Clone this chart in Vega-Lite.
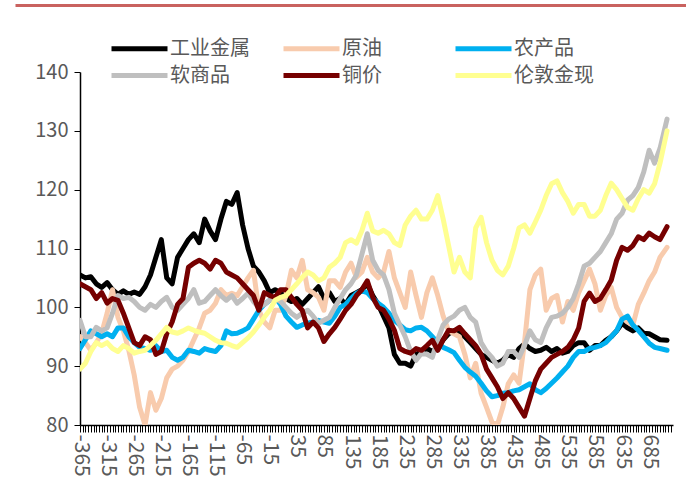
{
 "$schema": "https://vega.github.io/schema/vega-lite/v6.json",
 "width": 593,
 "height": 353,
 "autosize": "none",
 "padding": {"left": 80, "top": 72, "right": 13, "bottom": 65},
 "background": "white",
 "config": {"view": {"stroke": null}, "font": "Noto Sans CJK SC"},
 "data": {"values": [
  {"d":-365,"工业金属":105.5,"原油":95,"农产品":93,"软商品":97.8,"铜价":104,"伦敦金现":89.5},
  {"d":-355,"工业金属":105,"原油":94,"农产品":94.5,"软商品":95,"铜价":103.5,"伦敦金现":90.5},
  {"d":-345,"工业金属":105.2,"原油":92.7,"农产品":96,"软商品":95,"铜价":103,"伦敦金现":92.5},
  {"d":-335,"工业金属":104,"原油":94,"农产品":95.5,"软商品":96.6,"铜价":101.5,"伦敦金现":94},
  {"d":-325,"工业金属":103.4,"原油":95.6,"农产品":95,"软商品":96,"铜价":102.5,"伦敦金现":93.5},
  {"d":-315,"工业金属":104.2,"原油":99,"农产品":95.5,"软商品":96.5,"铜价":100.7,"伦敦金现":94},
  {"d":-305,"工业金属":103,"原油":103,"农产品":95,"软商品":99,"铜价":101.5,"伦敦金现":93},
  {"d":-295,"工业金属":102.2,"原油":98.3,"农产品":96.5,"软商品":102,"铜价":101.2,"伦敦金现":92.5},
  {"d":-285,"工业金属":102.8,"原油":96,"农产品":96.5,"软商品":101.5,"铜价":99,"伦敦金现":93.5},
  {"d":-275,"工业金属":102.2,"原油":92.7,"农产品":95,"软商品":101.7,"铜价":96.5,"伦敦金现":93},
  {"d":-265,"工业金属":102.6,"原油":88.5,"农产品":94,"软商品":101,"铜价":94,"伦敦金现":92.2},
  {"d":-255,"工业金属":102.2,"原油":83,"农产品":93.2,"软商品":100,"铜价":93.5,"伦敦金现":92.5},
  {"d":-245,"工业金属":103.5,"原油":80,"农产品":93,"软商品":99.5,"铜价":95,"伦敦金现":92.7},
  {"d":-235,"工业金属":105.5,"原油":85.5,"农产品":92.7,"软商品":100.5,"铜价":94.5,"伦敦金现":93.5},
  {"d":-225,"工业金属":108.5,"原油":82.5,"农产品":93.5,"软商品":100,"铜价":92,"伦敦金现":94.4},
  {"d":-215,"工业金属":111.5,"原油":84.5,"农产品":92.5,"软商品":101,"铜价":92.5,"伦敦金现":95.5},
  {"d":-205,"工业金属":105,"原油":88,"农产品":92.7,"软商品":101.7,"铜价":95.5,"伦敦金现":96.6},
  {"d":-195,"工业金属":104,"原油":89.5,"农产品":91.5,"软商品":100,"铜价":97.5,"伦敦金现":95.8},
  {"d":-185,"工业金属":108.5,"原油":90,"农产品":91,"软商品":99.5,"铜价":100.5,"伦敦金现":95.6},
  {"d":-175,"工业金属":110,"原油":91,"农产品":91.5,"软商品":100.5,"铜价":101.5,"伦敦金现":96},
  {"d":-165,"工业金属":111.5,"原油":92.5,"农产品":92.7,"软商品":101.5,"铜价":106.8,"伦敦金现":96.5},
  {"d":-155,"工业金属":112.5,"原油":94.5,"农产品":92.5,"软商品":103,"铜价":107.5,"伦敦金现":96.1},
  {"d":-145,"工业金属":111,"原油":96.5,"农产品":92.2,"软商品":100.7,"铜价":108,"伦敦金现":95.8},
  {"d":-135,"工业金属":115,"原油":99,"农产品":93,"软商品":101,"铜价":107.5,"伦敦金现":95.6},
  {"d":-125,"工业金属":113,"原油":99.5,"农产品":92.7,"软商品":102,"铜价":106.5,"伦敦金现":95},
  {"d":-115,"工业金属":111.5,"原油":100.7,"农产品":92.5,"软商品":103,"铜价":108,"伦敦金现":94.4},
  {"d":-105,"工业金属":115,"原油":103,"农产品":93.5,"软商品":102,"铜价":107.5,"伦敦金现":94},
  {"d":-95,"工业金属":118,"原油":102,"农产品":96,"软商品":101.2,"铜价":106,"伦敦金现":93.9},
  {"d":-85,"工业金属":117.5,"原油":102.4,"农产品":95.5,"软商品":102,"铜价":105.5,"伦敦金现":93.5},
  {"d":-75,"工业金属":119.5,"原油":102,"农产品":95.6,"软商品":100.7,"铜价":105,"伦敦金现":93.2},
  {"d":-65,"工业金属":114,"原油":103.5,"农产品":96,"软商品":101.5,"铜价":104,"伦敦金现":94},
  {"d":-55,"工业金属":110,"原油":105,"农产品":96.5,"软商品":102.4,"铜价":103,"伦敦金现":94.8},
  {"d":-45,"工业金属":107,"原油":106.3,"农产品":98,"软商品":101,"铜价":102,"伦敦金现":95.8},
  {"d":-35,"工业金属":106,"原油":99.5,"农产品":99.5,"软商品":100,"铜价":99.5,"伦敦金现":97},
  {"d":-25,"工业金属":104.5,"原油":97.5,"农产品":100.5,"软商品":100.5,"铜价":102.5,"伦敦金现":98.3},
  {"d":-15,"工业金属":102.5,"原油":96.5,"农产品":101.2,"软商品":101.2,"铜价":102,"伦敦金现":99.5},
  {"d":-5,"工业金属":103,"原油":99.5,"农产品":101.7,"软商品":101.5,"铜价":101.7,"伦敦金现":101.2},
  {"d":5,"工业金属":102.5,"原油":99.5,"农产品":100.5,"软商品":101,"铜价":103,"伦敦金现":101.7},
  {"d":15,"工业金属":101.5,"原油":102,"农产品":98.5,"软商品":100,"铜价":103,"伦敦金现":102},
  {"d":25,"工业金属":101,"原油":106.3,"农产品":97.5,"软商品":99,"铜价":101.7,"伦敦金现":103},
  {"d":35,"工业金属":101.5,"原油":105,"农产品":96.6,"软商品":98.3,"铜价":100.5,"伦敦金现":104},
  {"d":45,"工业金属":100.5,"原油":108,"农产品":97,"软商品":99,"铜价":99.5,"伦敦金现":105.1},
  {"d":55,"工业金属":101.5,"原油":103,"农产品":97.3,"软商品":99.5,"铜价":96.5,"伦敦金现":106},
  {"d":65,"工业金属":102.5,"原油":102.5,"农产品":97.5,"软商品":98.5,"铜价":97.5,"伦敦金现":105.5},
  {"d":75,"工业金属":103.5,"原油":101.7,"农产品":97.8,"软商品":97.3,"铜价":96.5,"伦敦金现":104.5},
  {"d":85,"工业金属":101.5,"原油":99.5,"农产品":97.5,"软商品":97.8,"铜价":94.2,"伦敦金现":105},
  {"d":95,"工业金属":102.5,"原油":104.5,"农产品":97.3,"软商品":98.3,"铜价":95.5,"伦敦金现":106.8},
  {"d":105,"工业金属":101,"原油":104.5,"农产品":98.5,"软商品":100,"铜价":96.6,"伦敦金现":107.5},
  {"d":115,"工业金属":101.5,"原油":103.4,"农产品":100,"软商品":101.5,"铜价":98,"伦敦金现":108.5},
  {"d":125,"工业金属":100.5,"原油":106,"农产品":100.5,"软商品":103,"铜价":99.5,"伦敦金现":111},
  {"d":135,"工业金属":102,"原油":107.5,"农产品":101.5,"软商品":104,"铜价":100.5,"伦敦金现":111.5},
  {"d":145,"工业金属":102.5,"原油":105.1,"农产品":102.4,"软商品":105.5,"铜价":102,"伦敦金现":110.9},
  {"d":155,"工业金属":103,"原油":106,"农产品":102.8,"软商品":109,"铜价":103,"伦敦金现":113},
  {"d":165,"工业金属":104,"原油":108.5,"农产品":102.5,"软商品":112.5,"铜价":104.5,"伦敦金现":116},
  {"d":175,"工业金属":102,"原油":106,"农产品":101.5,"软商品":108,"铜价":101.7,"伦敦金现":113},
  {"d":185,"工业金属":100.5,"原油":105,"农产品":100.7,"软商品":106.3,"铜价":100,"伦敦金现":112.6},
  {"d":195,"工业金属":98.5,"原油":106,"农产品":100,"软商品":105.5,"铜价":99.5,"伦敦金现":113.1},
  {"d":205,"工业金属":96.5,"原油":109.5,"农产品":99,"软商品":103,"铜价":98,"伦敦金现":112.5},
  {"d":215,"工业金属":92,"原油":105,"农产品":97.8,"软商品":99,"铜价":96.1,"伦敦金现":111},
  {"d":225,"工业金属":90.5,"原油":102.5,"农产品":97,"软商品":97,"铜价":93,"伦敦金现":110.5},
  {"d":235,"工业金属":90.5,"原油":100,"农产品":96.2,"软商品":95,"铜价":92.5,"伦敦金现":114},
  {"d":245,"工业金属":90,"原油":106,"农产品":96,"软商品":92.5,"铜价":92.2,"伦敦金现":115.5},
  {"d":255,"工业金属":92,"原油":102,"农产品":96.5,"软商品":91,"铜价":93,"伦敦金现":116.5},
  {"d":265,"工业金属":92.5,"原油":98.3,"农产品":96.6,"软商品":92.2,"铜价":92.7,"伦敦金现":115},
  {"d":275,"工业金属":93,"原油":102.5,"农产品":96,"软商品":92,"铜价":93.5,"伦敦金现":115},
  {"d":285,"工业金属":92.5,"原油":105,"农产品":95,"软商品":91.5,"铜价":94.4,"伦敦金现":116.5},
  {"d":295,"工业金属":93,"原油":102,"农产品":94,"软商品":94.5,"铜价":92.7,"伦敦金现":119},
  {"d":305,"工业金属":94.5,"原油":98.5,"农产品":93.2,"软商品":97,"铜价":94.5,"伦敦金现":115},
  {"d":315,"工业金属":95.5,"原油":96,"农产品":92.8,"软商品":98,"铜价":96.1,"伦敦金现":110.5},
  {"d":325,"工业金属":96,"原油":95.5,"农产品":92.3,"软商品":98.5,"铜价":96,"伦敦金现":106},
  {"d":335,"工业金属":95.5,"原油":95,"农产品":91,"软商品":99.5,"铜价":96.6,"伦敦金现":108.5},
  {"d":345,"工业金属":95,"原油":92,"农产品":89.8,"软商品":100,"铜价":95.5,"伦敦金现":106},
  {"d":355,"工业金属":94,"原油":88,"农产品":89,"软商品":98.3,"铜价":94.5,"伦敦金现":105},
  {"d":365,"工业金属":93,"原油":90.5,"农产品":88.3,"软商品":97.5,"铜价":93.5,"伦敦金现":113.5},
  {"d":375,"工业金属":92,"原油":85.4,"农产品":87.1,"软商品":94,"铜价":92,"伦敦金现":115.3},
  {"d":385,"工业金属":91.5,"原油":83,"农产品":85.8,"软商品":92.5,"铜价":89.5,"伦敦金现":111},
  {"d":395,"工业金属":91,"原油":80.5,"农产品":84.8,"软商品":91.5,"铜价":88,"伦敦金现":108},
  {"d":405,"工业金属":90.5,"原油":80,"农产品":85,"软商品":90,"铜价":86.5,"伦敦金现":106.3},
  {"d":415,"工业金属":91,"原油":83,"农产品":85.4,"软商品":90.5,"铜价":84.5,"伦敦金现":105.5},
  {"d":425,"工业金属":92,"原油":87,"农产品":85.5,"软商品":92.5,"铜价":85.5,"伦敦金现":107},
  {"d":435,"工业金属":91.5,"原油":88.5,"农产品":85.8,"软商品":92.5,"铜价":84.5,"伦敦金现":110},
  {"d":445,"工业金属":93,"原油":87.1,"农产品":86,"软商品":91.5,"铜价":83,"伦敦金现":113.5},
  {"d":455,"工业金属":93.8,"原油":94,"农产品":86.5,"软商品":93.5,"铜价":81.5,"伦敦金现":114},
  {"d":465,"工业金属":93,"原油":103,"农产品":87,"软商品":96,"铜价":84.5,"伦敦金现":112.6},
  {"d":475,"工业金属":92.5,"原油":105.5,"农产品":86,"软商品":94.5,"铜价":87.5,"伦敦金现":114.5},
  {"d":485,"工业金属":92.7,"原油":106.5,"农产品":85.5,"软商品":94,"铜价":89.5,"伦敦金现":116.5},
  {"d":495,"工业金属":93.2,"原油":99.5,"农产品":86.2,"软商品":96.5,"铜价":90.5,"伦敦金现":119},
  {"d":505,"工业金属":92.5,"原油":101.5,"农产品":87.1,"软商品":98.3,"铜价":91.5,"伦敦金现":121},
  {"d":515,"工业金属":93,"原油":102,"农产品":88,"软商品":98.5,"铜价":92,"伦敦金现":121.5},
  {"d":525,"工业金属":92.2,"原油":97.5,"农产品":89,"软商品":99,"铜价":92.5,"伦敦金现":119.5},
  {"d":535,"工业金属":92.5,"原油":101,"农产品":90,"软商品":100,"铜价":93.2,"伦敦金现":118},
  {"d":545,"工业金属":93.5,"原油":99.5,"农产品":91.5,"软商品":101.5,"铜价":94.5,"伦敦金现":116},
  {"d":555,"工业金属":94,"原油":102.5,"农产品":92.5,"软商品":104,"铜价":96.5,"伦敦金现":117.5},
  {"d":565,"工业金属":94,"原油":104.5,"农产品":92.5,"软商品":107,"铜价":101,"伦敦金现":117.5},
  {"d":575,"工业金属":92.7,"原油":106.5,"农产品":93,"软商品":107.5,"铜价":102.4,"伦敦金现":115.5},
  {"d":585,"工业金属":93.5,"原油":104,"农产品":93.2,"软商品":108.5,"铜价":101,"伦敦金现":115.5},
  {"d":595,"工业金属":93.5,"原油":99.5,"农产品":93.5,"软商品":109.5,"铜价":101.5,"伦敦金现":116.5},
  {"d":605,"工业金属":94.4,"原油":102,"农产品":94,"软商品":111,"铜价":103,"伦敦金现":119},
  {"d":615,"工业金属":95,"原油":103.4,"农产品":95,"软商品":112.5,"铜价":104.6,"伦敦金现":121.1},
  {"d":625,"工业金属":96,"原油":100,"农产品":96,"软商品":115,"铜价":108,"伦敦金现":120},
  {"d":635,"工业金属":97.3,"原油":98.3,"农产品":98,"软商品":116,"铜价":110.2,"伦敦金现":118.5},
  {"d":645,"工业金属":96.5,"原油":97.5,"农产品":98.5,"软商品":118.2,"铜价":109.7,"伦敦金现":117},
  {"d":655,"工业金属":96,"原油":97,"农产品":97,"软商品":119,"铜价":110.5,"伦敦金现":116.5},
  {"d":665,"工业金属":96.5,"原油":100.5,"农产品":96.1,"软商品":120.4,"铜价":112,"伦敦金现":118.5},
  {"d":675,"工业金属":95.6,"原油":102.4,"农产品":95,"软商品":123,"铜价":111.5,"伦敦金现":120},
  {"d":685,"工业金属":95.5,"原油":104.5,"农产品":93.9,"软商品":126.7,"铜价":112.6,"伦敦金现":119.4},
  {"d":695,"工业金属":95,"原油":106,"农产品":93.2,"软商品":124.5,"铜价":112,"伦敦金现":121},
  {"d":705,"工业金属":94.5,"原油":108.5,"农产品":93,"软商品":127,"铜价":111.5,"伦敦金现":124.5},
  {"d":718,"工业金属":94.4,"原油":110.2,"农产品":92.7,"软商品":132,"铜价":113.7,"伦敦金现":130}
 ]},
 "transform": [{"fold": ["工业金属","原油","农产品","软商品","铜价","伦敦金现"], "as": ["series","value"]}],
 "layer": [
  {
   "mark": {"type": "line", "strokeWidth": 5, "clip": true, "strokeJoin": "round", "strokeCap": "round"},
   "encoding": {
    "x": {"field": "d", "type": "quantitative",
      "scale": {"domain": [-365, 729], "nice": false, "zero": false},
      "axis": {"title": null, "grid": false, "tickCount": 220,
        "labelExpr": "(datum.value + 365) % 50 == 0 ? toString(datum.value) : ''",
        "labelAngle": 90, "labelFontSize": 21, "labelColor": "#595959", "labelOverlap": false, "labelFlush": false,
        "labelPadding": 2, "tickSize": 7, "tickColor": "black", "domainColor": "black", "domainWidth": 1.5, "tickWidth": 1}},
    "y": {"field": "value", "type": "quantitative",
      "scale": {"domain": [80, 140], "nice": false, "zero": false},
      "axis": {"title": null, "grid": false, "values": [80, 90, 100, 110, 120, 130, 140],
        "labelFontSize": 20, "labelColor": "#595959", "tickSize": 6, "labelPadding": 6,
        "domainColor": "black", "tickColor": "black", "domainWidth": 1.5}},
    "color": {"field": "series", "type": "nominal",
      "scale": {"domain": ["工业金属","原油","农产品","软商品","铜价","伦敦金现"],
                "range": ["#000000","#F8CBAD","#00B0F0","#BFBFBF","#760000","#FFFF91"]},
      "legend": {"title": null, "orient": "none", "legendX": 43, "legendY": -40, "columns": 3, "direction": "horizontal",
        "symbolType": "M-2,0H2", "symbolSize": 784, "symbolStrokeWidth": 5,
        "labelFontSize": 20, "labelColor": "#595959", "labelOffset": 14,
        "columnPadding": 23, "rowPadding": 0, "gridAlign": "all", "padding": 0, "labelLimit": 0}}
   }
  },
  {
   "mark": {"type": "line", "opacity": 0},
   "encoding": {
    "x": {"field": "d", "type": "quantitative",
      "scale": {"domain": [-365, 729], "nice": false, "zero": false, "range": [-65, 606]},
      "axis": {"orient": "top", "offset": 67, "domainColor": "#C9625F", "domainWidth": 3,
        "ticks": false, "labels": false, "title": null, "grid": false}},
    "y": {"field": "value", "type": "quantitative", "axis": null},
    "detail": {"field": "series"}
   }
  }
 ],
 "resolve": {"scale": {"x": "independent", "y": "independent"}, "axis": {"x": "independent", "y": "independent"}}
}
